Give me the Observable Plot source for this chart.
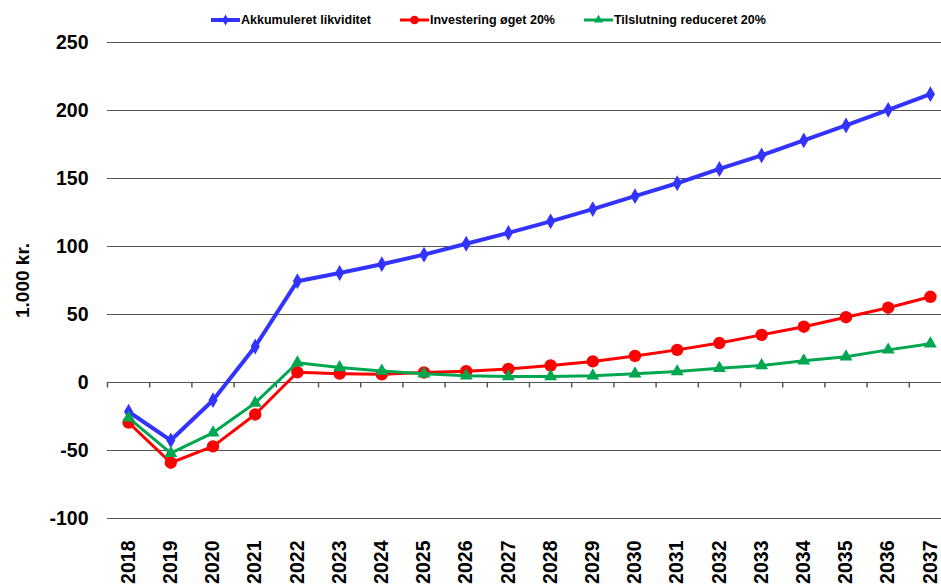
<!DOCTYPE html>
<html>
<head>
<meta charset="utf-8">
<script src="https://cdn.jsdelivr.net/npm/d3@7"></script>
<script src="https://cdn.jsdelivr.net/npm/@observablehq/plot@0.6"></script>
<style>
  html, body { margin: 0; padding: 0; background: #fff; overflow: hidden; }
  body { font-family: Arial, "Liberation Sans", sans-serif; width: 941px; height: 587px; }
  #legend { height: 30px; display: flex; align-items: center; padding-left: 211px; padding-top: 9px; box-sizing: border-box; }
  .item { display: flex; align-items: center; margin-right: 29px; font-size: 12.5px; font-weight: bold; color: #000; }
  .item svg { display: block; margin-right: 1px; }
  #chart { width: 951px; }
  #chart svg { display: block; max-width: none !important; }
</style>
</head>
<body>
<div id="legend"></div>
<div id="chart"></div>
<script>
const years = [2018, 2019, 2020, 2021, 2022, 2023, 2024, 2025, 2026, 2027,
               2028, 2029, 2030, 2031, 2032, 2033, 2034, 2035, 2036, 2037];
const akkumuleret = [-21.5, -42.5, -13, 26.5, 74.5, 80.5, 87, 94, 102, 110,
                     118.5, 127.5, 137, 146.5, 157, 167, 178, 189, 200.5, 212];
const investering = [-29.5, -59, -47, -23.5, 7.5, 6.5, 6, 7.4, 8.3, 10,
                     12.5, 15.5, 19.5, 24, 29, 35, 41, 48, 55, 63];
const tilslutning = [-26, -52, -37, -15, 14.5, 11, 8.5, 6.5, 5, 4.4,
                     4.4, 5, 6.5, 8, 10.5, 12.5, 16, 19, 24, 28.5];
const seriesNames = ["Akkumuleret likviditet", "Investering øget 20%", "Tilslutning reduceret 20%"];
const yTicks = [-100, -50, 0, 50, 100, 150, 200, 250];
const yLabel = "1.000 kr.";

const colors = ["#3333FF", "#FF0000", "#00A650"];
const symbols = ["diamond", "circle", "triangle"];
const radii = [4.8, 6.2, 4.8];
const widths = [4, 3, 3];
const seriesValues = [akkumuleret, investering, tilslutning];

const rows = seriesValues.map((vals) => years.map((yr, i) => ({year: yr, value: vals[i]})));
const boundaries = years.map((y) => y - 0.5).concat([years[years.length - 1] + 0.5]);

// custom short downward tick symbol
const tickDown = { draw(ctx) { ctx.moveTo(0, 0); ctx.lineTo(0, 5); } };

const marks = [
  Plot.ruleY(yTicks, {stroke: "#555", strokeWidth: 1}),
  Plot.dot(boundaries, {x: (d) => d, y: () => 0, symbol: tickDown, stroke: "#555", fill: "none", r: 3}),
  Plot.axisY({ticks: yTicks, tickSize: 0, tickPadding: 19, fontSize: 19.5, fontWeight: "bold", label: null, tickFormat: (d) => String(d)}),
  Plot.axisX({ticks: years, tickSize: 0, tickPadding: 22, tickRotate: -90, fontSize: 19.5, fontWeight: "bold", tickFormat: (d) => String(d), label: null}),
  Plot.text([yLabel], {frameAnchor: "left", textAnchor: "middle", rotate: -90, dx: -85, fontSize: 19, fontWeight: "bold", fill: "#000"})
];
rows.forEach((data, k) => {
  marks.push(Plot.line(data, {x: "year", y: "value", stroke: colors[k], strokeWidth: widths[k]}));
  marks.push(Plot.dot(data, {x: "year", y: "value", symbol: symbols[k], r: radii[k], fill: colors[k], stroke: "none"}));
});

const chart = Plot.plot({
  width: 951,
  height: 557,
  marginTop: 12,
  marginBottom: 69,
  marginLeft: 107,
  marginRight: 0,
  style: {fontFamily: "Arial, 'Liberation Sans', sans-serif", color: "#000", background: "#fff", overflow: "hidden", maxWidth: "none"},
  x: {type: "linear", domain: [years[0] - 0.5, years[years.length - 1] + 0.5]},
  y: {domain: [-100, 250]},
  marks
});
document.getElementById("chart").appendChild(chart);

// legend
const legend = d3.select("#legend");
seriesNames.forEach((name, k) => {
  const item = legend.append("div").attr("class", "item");
  const svg = item.append("svg").attr("width", 29).attr("height", 14);
  svg.append("line").attr("x1", 0).attr("x2", 29).attr("y1", 7).attr("y2", 7)
    .attr("stroke", colors[k]).attr("stroke-width", widths[k]);
  const sym = {diamond: d3.symbolDiamond, circle: d3.symbolCircle, triangle: d3.symbolTriangle}[symbols[k]];
  svg.append("path").attr("transform", "translate(14.5,7)")
    .attr("d", d3.symbol(sym, (radii[k] * 0.7) ** 2 * Math.PI)())
    .attr("fill", colors[k]);
  item.append("span").text(name);
});
</script>
</body>
</html>
